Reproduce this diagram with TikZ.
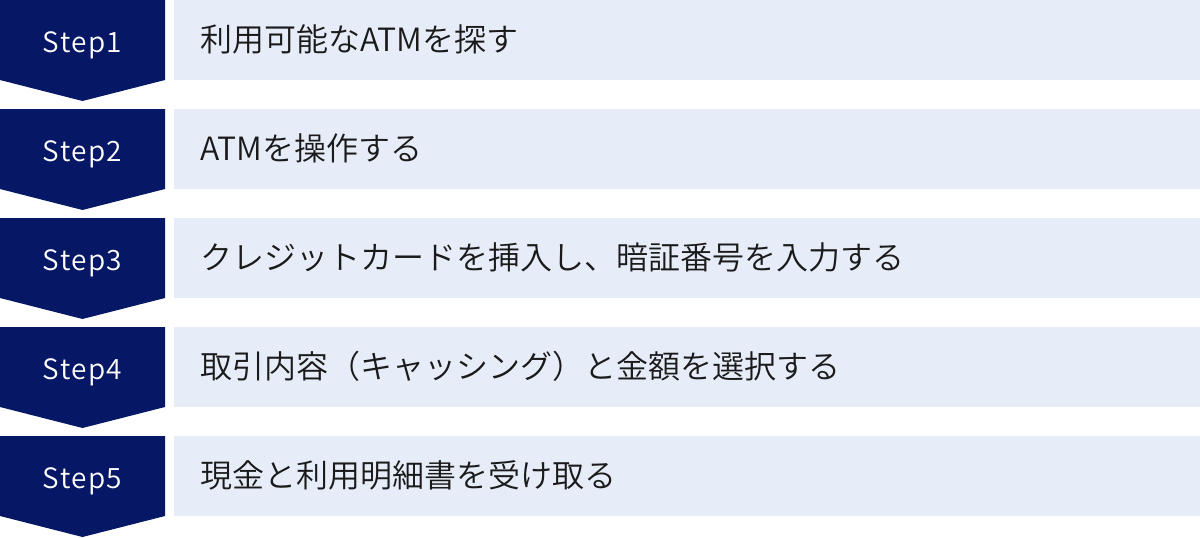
\documentclass[tikz,border=0pt]{standalone}
\usepackage{fontspec}
\newfontfamily\jpfont{Noto Sans CJK JP DemiLight}
\newfontfamily\stepfont[LetterSpace=5]{Noto Sans CJK JP DemiLight}
\definecolor{navy}{HTML}{061766}
\definecolor{pale}{HTML}{E6ECF8}
\definecolor{ink}{HTML}{1A1A1A}
\begin{document}
\begin{tikzpicture}[x=1pt,y=-1pt,
  chev/.style={fill=navy,draw=none},
  steplabel/.style={text=white,inner sep=0pt,font=\stepfont\fontsize{28}{32}\selectfont,anchor=base},
  bar/.style={fill=pale,draw=none,anchor=north west,minimum width=1026pt,minimum height=80pt,inner sep=0pt},
  bartext/.style={text=ink,inner sep=0pt,font=\jpfont\fontsize{32}{36}\selectfont,anchor=west}]
\useasboundingbox (0,0) rectangle (1200,538);
\foreach \i/\t in {1/利用可能なATMを探す, 2/ATMを操作する, 3/クレジットカードを挿入し、暗証番号を入力する, 4/取引内容（キャッシング）と金額を選択する, 5/現金と利用明細書を受け取る}{
  \pgfmathsetmacro\ytop{109*(\i-1)}
  \fill[chev] (0,\ytop) -- (165,\ytop) -- (165,\ytop+80) -- (82.5,\ytop+101) -- (0,\ytop+80) -- cycle;
  \node[steplabel] (step\i) at (82.5,\ytop+52.5) {Step\i};
  \node[bar] (bar\i) at (174,\ytop) {};
  \node[bartext] (text\i) at (200,\ytop+39) {\t};
}
\end{tikzpicture}
\end{document}
